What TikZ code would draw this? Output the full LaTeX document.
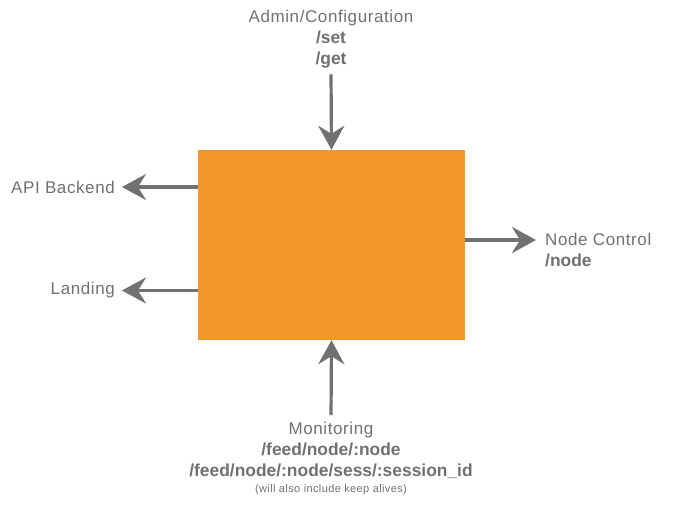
\documentclass[tikz,border=0pt]{standalone}
\usepackage{fontspec}
\setmainfont{Liberation Sans}
\usepackage{tikz}
\usetikzlibrary{arrows.meta, positioning}
\definecolor{myorange}{RGB}{244,152,45}
\definecolor{mygray}{RGB}{112,113,113}
\definecolor{mytext}{RGB}{112,112,112}
\newfontfamily\lblfont[LetterSpace=3.5]{Liberation Sans}
\newcommand{\pathtxt}[1]{{\normalfont\bfseries\fontsize{17.4}{21}\selectfont #1}}
\tikzset{
  core/.style={rectangle, fill=myorange, minimum width=267pt,
    minimum height=190pt, inner sep=0pt},
  lbl/.style={text=mytext, align=center, inner sep=3pt,
    font=\lblfont\fontsize{17}{21}\selectfont},
  arrow/.style={-{Stealth[length=24pt, width=26pt, inset=8pt]},
    line width=3.2pt, color=mygray}
}

\begin{document}
\begin{tikzpicture}[x=1pt, y=1pt]
  \useasboundingbox (0,0) rectangle (688,-507);

  % --- central block ---
  \node[core] (box) at (331.5,-245) {};

  % --- labels ---
  \node[lbl, anchor=north] (admin) at (331,-7)
    {Admin/Configuration\\\pathtxt{/set}\\\pathtxt{/get}};
  \node[lbl, anchor=east] (api) at (118,-187) {API Backend};
  \node[lbl, anchor=east] (landing) at (118,-290.5) {Landing};
  \node[lbl, anchor=north west, align=left] (ctrl) at (542,-229.5)
    {Node Control\\\pathtxt{/node}};
  \node[lbl, anchor=north] (mon) at (331,-419)
    {Monitoring\\\pathtxt{/feed/node/:node}\\\pathtxt{/feed/node/:node/sess/:session\_id}\\[-5pt]
     {\fontsize{11}{13}\selectfont (will also include keep alives)}};
  \coordinate (ctrlin) at (536,-240);

  % --- connectors ---
  \draw[arrow, shorten <=3pt] (admin.south) -- (box.north);
  \draw[arrow, shorten >=4pt] (box.west |- api) -- (api.east);
  \draw[arrow, shorten >=4pt] (box.west |- landing) -- (landing.east);
  \draw[arrow] (box.east |- ctrlin) -- (ctrlin);
  \draw[arrow, shorten <=4pt] (mon.north) -- (box.south);
\end{tikzpicture}
\end{document}
